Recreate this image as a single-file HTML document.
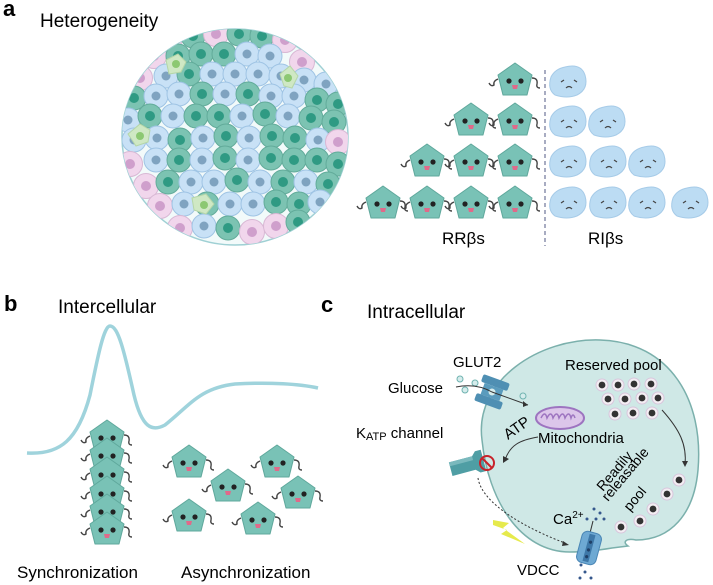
<!DOCTYPE html>
<html><head><meta charset="utf-8"><style>
html,body{margin:0;padding:0;background:#fff}
svg{display:block;font-family:"Liberation Sans",sans-serif}
</style></head><body>
<svg width="713" height="585" viewBox="0 0 713 585" xmlns="http://www.w3.org/2000/svg">
<defs>
<g id="h">
<path d="M0,-17 L17,-5 L12,15 L-12,15 L-17,-5 Z" fill="#79c2b6" stroke="#5fa89c" stroke-width="1" stroke-linejoin="round"/>
<circle cx="-6" cy="1" r="2.6" fill="#222"/><circle cx="6" cy="1" r="2.6" fill="#222"/>
<path d="M-3,5 h6 l-1,4 h-4z" fill="#e06a8a"/>
<path d="M17,-2 q6,0 5,6 q-1,4 3,4" fill="none" stroke="#444" stroke-width="1.4"/>
<path d="M-17,-1 q-5,2 -4,6 q-3,2 -5,-2" fill="none" stroke="#444" stroke-width="1.4"/>
</g>
<g id="s">
<path d="M-4,-15 q16,-4 20,8 q4,14 -8,20 q-10,4 -22,0 q-8,-6 -4,-18 q4,-8 14,-10z" fill="#bcdcf3" stroke="#a6cbe8"/>
<path d="M-8,0 l3,-2 M8,0 l-3,-2 M-3,6 q3,-3 6,0" fill="none" stroke="#444" stroke-width="1.2"/>
</g>
<g id="g"><circle r="12" fill="#7cc3b2" stroke="#62ab9a"/><circle r="5" fill="#2f9a83"/></g>
<g id="b"><circle r="12" fill="#c8e1f6" stroke="#9fc4e4"/><circle r="4.5" fill="#7fa3c0"/></g>
<g id="p"><circle r="12.5" fill="#f1d6ec" stroke="#d8b8d4"/><circle r="5" fill="#cf9fcc"/></g>
<g id="v"><circle r="6" fill="#f3eef3" stroke="#d8c6dc"/><circle r="3.4" fill="#333"/></g>
<clipPath id="isl"><ellipse cx="235" cy="137" rx="113" ry="108"/></clipPath>
</defs>

<!-- Panel a -->
<text x="3" y="16" font-size="22" font-weight="bold">a</text>
<text x="40" y="27" font-size="19">Heterogeneity</text>
<ellipse cx="235" cy="137" rx="113" ry="108" fill="#f2fafa" stroke="#9fd0d4" stroke-width="1.5"/>
<g clip-path="url(#isl)">
<!-- row y=34 -->
<use href="#p" x="170" y="38"/><use href="#g" x="193" y="36"/><use href="#p" x="216" y="34"/><use href="#g" x="239" y="34"/><use href="#g" x="262" y="36"/><use href="#p" x="285" y="40"/>
<!-- row 54 -->
<use href="#p" x="154" y="56"/><use href="#g" x="178" y="56"/><use href="#g" x="201" y="54"/><use href="#g" x="224" y="54"/><use href="#b" x="247" y="54"/><use href="#b" x="270" y="56"/><use href="#p" x="302" y="62"/>
<!-- row 74 -->
<use href="#p" x="140" y="78"/><use href="#b" x="166" y="76"/><use href="#g" x="189" y="74"/><use href="#b" x="212" y="74"/><use href="#b" x="235" y="74"/><use href="#b" x="258" y="74"/><use href="#b" x="281" y="76"/><use href="#b" x="304" y="80"/><use href="#b" x="326" y="84"/>
<!-- row 94 -->
<use href="#g" x="134" y="98"/><use href="#b" x="156" y="96"/><use href="#b" x="179" y="94"/><use href="#g" x="202" y="94"/><use href="#b" x="225" y="94"/><use href="#g" x="248" y="94"/><use href="#b" x="271" y="96"/><use href="#b" x="294" y="96"/><use href="#g" x="317" y="100"/><use href="#g" x="338" y="104"/>
<!-- row 116 -->
<use href="#b" x="128" y="120"/><use href="#g" x="150" y="116"/><use href="#b" x="173" y="116"/><use href="#g" x="196" y="116"/><use href="#g" x="219" y="116"/><use href="#b" x="242" y="116"/><use href="#g" x="265" y="114"/><use href="#b" x="288" y="116"/><use href="#g" x="311" y="118"/><use href="#g" x="334" y="122"/>
<!-- row 138 -->
<use href="#b" x="134" y="140"/><use href="#b" x="157" y="138"/><use href="#g" x="180" y="140"/><use href="#b" x="203" y="138"/><use href="#g" x="226" y="136"/><use href="#b" x="249" y="138"/><use href="#g" x="272" y="136"/><use href="#g" x="295" y="138"/><use href="#b" x="318" y="140"/><use href="#p" x="338" y="142"/>
<!-- row 160 -->
<use href="#p" x="130" y="164"/><use href="#b" x="156" y="160"/><use href="#g" x="179" y="160"/><use href="#b" x="202" y="160"/><use href="#g" x="225" y="158"/><use href="#b" x="248" y="160"/><use href="#g" x="271" y="158"/><use href="#g" x="294" y="160"/><use href="#g" x="317" y="160"/><use href="#g" x="338" y="164"/>
<!-- row 182 -->
<use href="#p" x="146" y="186"/><use href="#g" x="168" y="182"/><use href="#b" x="191" y="182"/><use href="#b" x="214" y="182"/><use href="#g" x="237" y="180"/><use href="#b" x="260" y="182"/><use href="#g" x="283" y="182"/><use href="#b" x="306" y="182"/><use href="#g" x="328" y="184"/>
<!-- row 204 -->
<use href="#p" x="160" y="206"/><use href="#b" x="184" y="204"/><use href="#g" x="207" y="204"/><use href="#b" x="230" y="204"/><use href="#b" x="253" y="204"/><use href="#g" x="276" y="202"/><use href="#g" x="299" y="204"/><use href="#b" x="320" y="202"/>
<!-- row 226 -->
<use href="#p" x="180" y="228"/><use href="#b" x="204" y="226"/><use href="#g" x="228" y="228"/><use href="#p" x="252" y="232"/><use href="#p" x="276" y="226"/><use href="#g" x="298" y="222"/>
</g>
<g fill="#cfe8c4" stroke="#b5d6a8"><path d="M166,60 l12,-6 l8,8 l-5,10 l-12,2z"/><path d="M280,74 l10,-8 l8,10 l-6,12 l-8,-2z"/><path d="M128,134 l12,-10 l10,6 l-2,12 l-12,4z"/><path d="M192,198 l14,-4 l8,10 l-8,10 l-12,-4z"/></g>
<g fill="#8cc872"><circle cx="176" cy="64" r="4"/><circle cx="288" cy="78" r="4"/><circle cx="140" cy="136" r="4"/><circle cx="204" cy="205" r="4"/></g>

<line x1="545" y1="70" x2="545" y2="246" stroke="#7a7fa0" stroke-width="1.3" stroke-dasharray="4,3"/>
<use href="#h" x="515" y="80"/>
<use href="#h" x="471" y="120"/><use href="#h" x="515" y="120"/>
<use href="#h" x="427" y="161"/><use href="#h" x="471" y="161"/><use href="#h" x="515" y="161"/>
<use href="#h" x="383" y="203"/><use href="#h" x="427" y="203"/><use href="#h" x="471" y="203"/><use href="#h" x="515" y="203"/>
<use href="#s" x="569" y="82"/>
<use href="#s" x="569" y="122"/><use href="#s" x="608" y="122"/>
<use href="#s" x="569" y="162"/><use href="#s" x="609" y="162"/><use href="#s" x="648" y="162"/>
<use href="#s" x="569" y="203"/><use href="#s" x="609" y="203"/><use href="#s" x="648" y="203"/><use href="#s" x="691" y="203"/>
<text x="442" y="244" font-size="17">RRβs</text>
<text x="588" y="244" font-size="17">RIβs</text>

<!-- Panel b -->
<text x="4" y="311" font-size="22" font-weight="bold">b</text>
<text x="58" y="313" font-size="19">Intercellular</text>
<path d="M27,453 C60,455 78,440 90,395 C98,355 104,326 110,326 C118,326 124,350 134,395 C142,428 152,432 165,425 C190,405 200,388 235,384 C270,382 300,384 318,388" fill="none" stroke="#9fd3dc" stroke-width="3.5"/>
<use href="#h" x="107" y="437"/><use href="#h" x="107" y="455"/><use href="#h" x="107" y="474"/><use href="#h" x="107" y="493"/><use href="#h" x="107" y="511"/><use href="#h" x="107" y="529"/>
<use href="#h" x="189" y="462"/><use href="#h" x="277" y="462"/>
<use href="#h" x="228" y="486"/><use href="#h" x="298" y="493"/>
<use href="#h" x="189" y="516"/><use href="#h" x="258" y="519"/>
<text x="17" y="578" font-size="17">Synchronization</text>
<text x="181" y="578" font-size="17">Asynchronization</text>

<!-- Panel c -->
<text x="321" y="312" font-size="22" font-weight="bold">c</text>
<text x="367" y="318" font-size="19">Intracellular</text>
<path d="M482,440 C474,380 540,338 600,340 C670,342 704,400 698,470 C694,515 670,540 636,540 C626,538 622,542 628,546 L612,548 C600,550 585,552 570,552 C520,552 488,500 482,440z" fill="#cfe8e6" stroke="#7bb0ac" stroke-width="1.5"/>
<text x="453" y="367" font-size="15">GLUT2</text>
<text x="388" y="393" font-size="15">Glucose</text>
<g fill="#d6ecec" stroke="#6fb3b0"><circle cx="460" cy="379" r="3"/><circle cx="475" cy="383" r="3"/><circle cx="465" cy="390" r="3"/><circle cx="523" cy="396" r="3"/></g>
<g transform="translate(492,392) rotate(20)"><rect x="-14" y="-14" width="28" height="8" rx="2" fill="#4f8fb3"/><rect x="-10" y="-6" width="20" height="12" fill="#5a9bbd"/><rect x="-14" y="6" width="28" height="8" rx="2" fill="#4f8fb3"/><circle r="3.5" fill="#d6ecec"/></g>
<path d="M456,387 q20,-4 36,5 L528,405" fill="none" stroke="#333" stroke-width="1"/>
<path d="M528,405 l-5,-4 l0,6z" fill="#333"/>
<text x="565" y="370" font-size="15">Reserved pool</text>
<g><use href="#v" x="602" y="385"/><use href="#v" x="618" y="385"/><use href="#v" x="634" y="384"/><use href="#v" x="651" y="384"/>
<use href="#v" x="608" y="399"/><use href="#v" x="625" y="399"/><use href="#v" x="642" y="398"/><use href="#v" x="658" y="398"/>
<use href="#v" x="615" y="414"/><use href="#v" x="633" y="413"/><use href="#v" x="652" y="413"/></g>
<path d="M662,410 C680,430 687,445 685,465" fill="none" stroke="#333" stroke-width="1"/>
<path d="M685,467 l-3,-6 l6,0z" fill="#333"/>
<ellipse cx="560" cy="418" rx="24" ry="11" fill="#dcc6ea" stroke="#9d74c0" stroke-width="2"/>
<path d="M541,418 q4,-8 6,0 q4,-8 6,0 q4,-8 6,0 q4,-8 6,0 q4,-8 6,0 q2,-6 4,0" fill="none" stroke="#9d74c0" stroke-width="1.5"/>
<text x="538" y="443" font-size="15">Mitochondria</text>
<text x="0" y="0" font-size="15" transform="translate(508,440) rotate(-35)">ATP</text>
<path d="M538,437 C520,440 510,445 505,460" fill="none" stroke="#333" stroke-width="1"/>
<path d="M503,463 l0,-7 l6,3z" fill="#333"/>
<text x="356" y="438" font-size="15">K<tspan font-size="11" dy="2">ATP</tspan><tspan dy="-2"> channel</tspan></text>
<g transform="translate(470,464) rotate(-15)"><path d="M-20,-7 h24 l4,-4 h6 v22 h-6 l-4,-4 h-24z" fill="#4f9ea4"/><path d="M-20,-7 h24 v4 h-24z" fill="#7ab9bd"/></g>
<circle cx="487" cy="463" r="7" fill="none" stroke="#c8222a" stroke-width="2"/>
<line x1="482" y1="458" x2="492" y2="468" stroke="#c8222a" stroke-width="2"/>
<path d="M478,478 C482,505 530,530 565,543" fill="none" stroke="#333" stroke-width="1" stroke-dasharray="2,2"/>
<path d="M569,545 l-6,-4 l-1,5z" fill="#333"/>
<path d="M493,520 l16,3 l-6,5 l22,16 l-24,-10 l6,-4 l-14,-5z" fill="#e6ea4c"/>
<text x="0" y="0" font-size="14" transform="translate(603,492) rotate(-50)">Readily</text>
<text x="0" y="0" font-size="14" transform="translate(608,502) rotate(-50)">releasable</text>
<text x="0" y="0" font-size="14" transform="translate(630,512) rotate(-50)">pool</text>
<use href="#v" x="679" y="480"/><use href="#v" x="667" y="494"/><use href="#v" x="653" y="509"/><use href="#v" x="640" y="521"/><use href="#v" x="621" y="527"/>
<text x="553" y="524" font-size="15">Ca<tspan font-size="10" dy="-6">2+</tspan></text>
<g fill="#35578c"><circle cx="594" cy="509" r="1.5"/><circle cx="600" cy="513" r="1.5"/><circle cx="604" cy="519" r="1.5"/><circle cx="596" cy="519" r="1.5"/><circle cx="587" cy="519" r="1.5"/>
<circle cx="581" cy="565" r="1.5"/><circle cx="585" cy="572" r="1.5"/><circle cx="591" cy="578" r="1.5"/><circle cx="580" cy="578" r="1.5"/></g>
<line x1="590" y1="533" x2="593" y2="521" stroke="#333" stroke-width="1"/>
<g transform="translate(589,548) rotate(15)"><rect x="-10" y="-16" width="20" height="32" rx="6" fill="#6ea9d3" stroke="#4a86b5"/><rect x="-3" y="-14" width="6" height="28" fill="#3e78a8"/><circle cy="-6" r="1.6" fill="#1f3f66"/><circle cy="2" r="1.6" fill="#1f3f66"/><circle cy="9" r="1.6" fill="#1f3f66"/></g>
<text x="517" y="575" font-size="15">VDCC</text>
</svg>
</body></html>
